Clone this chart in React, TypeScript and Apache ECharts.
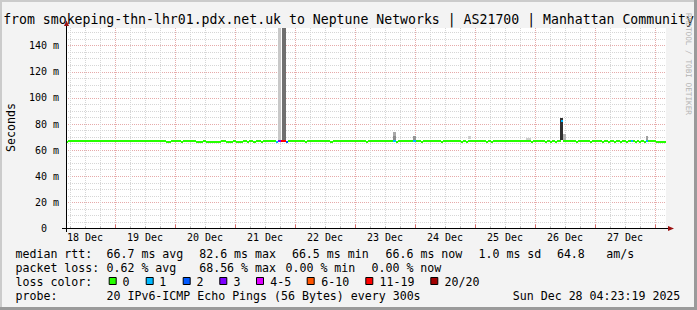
import React, { useEffect, useRef } from "react";
import * as echarts from "echarts";

// ---------------- data ----------------
const TITLE = "from smokeping-thn-lhr01.pdx.net.uk to Neptune Networks | AS21700 | Manhattan Community";
const Y_TITLE = "Seconds";
const WATERMARK = "RRDTOOL / TOBI OETIKER";

// time is in hours since 18 Dec 2025 00:00
const T_START = 4 + 23 / 60 + 19 / 3600; // 18 Dec 04:23:19
const T_END = T_START + 240; // 28 Dec 04:23:19
const Y_MAX = 153.5;

const X_LABELS = ["18 Dec", "19 Dec", "20 Dec", "21 Dec", "22 Dec", "23 Dec", "24 Dec", "25 Dec", "26 Dec", "27 Dec"];
const Y_LABELS = ["0\u00a0\u00a0", "20 m", "40 m", "60 m", "80 m", "100 m", "120 m", "140 m"];

// median rtt (ms): segment start time, value, loss class index
const medTime = [
  4.39, 5.0, 44.4, 46.4, 50.3, 51.1, 56.4, 59.1, 60.3, 66.3,
  68.3, 71.1, 72.3, 75.1, 76.7, 77.5, 79.1, 80.3, 82.4, 83.2,
  88.4, 89.2, 90.4, 92.4, 93.2, 100.0, 100.8, 110.0, 111.2, 124.4,
  125.2, 135.2, 136.4, 137.2, 143.2, 144.4, 146.4, 147.2, 154.4, 155.2,
  162.4, 163.2, 164.4, 165.2, 172.4, 173.2, 174.4, 175.2, 190.4, 191.2,
  196.0, 196.8, 198.0, 198.8, 200.0, 200.8, 202.4, 203.2, 208.4, 209.2,
  214.0, 214.8, 218.8, 219.6, 221.2, 222.0, 223.6, 224.4, 226.0, 226.8,
  228.4, 229.2, 230.4, 231.2, 232.0, 232.8, 233.6, 234.4, 235.6, 236.4,
  237.2, 240.4,
];
const medValue = [
  66.5, 67.2, 66.5, 67.2, 66.5, 67.2, 66.5, 67.2, 66.5, 67.2,
  66.5, 67.2, 66.5, 67.2, 66.5, 67.2, 66.5, 67.2, 66.5, 67.2,
  66.5, 67.2, 67.2, 66.5, 67.2, 66.5, 67.2, 66.5, 67.2, 66.5,
  67.2, 67.2, 66.5, 67.2, 67.2, 67.2, 66.5, 67.2, 66.5, 67.2,
  66.5, 67.2, 66.5, 67.2, 66.5, 67.2, 66.5, 67.2, 66.5, 67.2,
  66.5, 67.2, 66.5, 67.2, 66.5, 67.2, 82.6, 67.2, 66.5, 67.2,
  66.5, 67.2, 66.5, 67.2, 66.5, 67.2, 66.5, 67.2, 66.5, 67.2,
  66.5, 67.2, 67.2, 67.2, 66.5, 67.2, 66.5, 67.2, 66.5, 67.2,
  67.2, 66.5,
];
const medLoss = [
  0, 0, 0, 0, 0, 0, 0, 0, 0, 0,
  0, 0, 0, 0, 0, 0, 0, 0, 0, 0,
  1, 3, 6, 2, 0, 0, 0, 0, 0, 0,
  0, 1, 0, 0, 1, 0, 0, 0, 0, 0,
  0, 0, 0, 0, 0, 0, 0, 0, 0, 0,
  0, 0, 0, 0, 0, 0, 1, 0, 0, 0,
  0, 0, 0, 0, 0, 0, 0, 0, 0, 0,
  0, 0, 1, 0, 0, 0, 0, 0, 0, 1,
  0, 0,
];

// smoke (spread of the individual pings)
const smokeStart = [89.2, 90.8, 135.2, 135.2, 143.2, 165.2, 188.4, 202.0, 203.2, 236.4];
const smokeEnd = [90.5, 92.3, 136.4, 136.4, 144.4, 166.4, 190.4, 203.2, 204.4, 237.2];
const smokeLow = [67.2, 67.2, 67.5, 70.5, 67.5, 68.5, 67.5, 67.5, 67.5, 67.5];
const smokeHigh = [153.5, 153.5, 70.5, 74.0, 71.0, 70.5, 69.3, 84.5, 72.0, 71.0];
const smokeGrey = [200, 112, 140, 168, 150, 205, 205, 48, 180, 160];

const LOSS_LABELS = ["0", "1", "2", "3", "4-5", "6-10", "11-19", "20/20"];
const LOSS_COLORS = ["#26ff00", "#00b8ff", "#0059ff", "#7e00ff", "#dd00ff", "#ff5500", "#ff0000", "#a10000"];

const RTT_STATS = ["66.7 ms avg", "82.6 ms max", "66.5 ms min", "66.6 ms now", "1.0 ms sd", "64.8", "am/s"];
const LOSS_STATS = ["0.62 % avg", "68.56 % max", "0.00 % min", "0.00 % now"];
const PROBE = "20 IPv6-ICMP Echo Pings (56 Bytes) every 300s";
const STAMP = "Sun Dec 28 04:23:19 2025";

// ---------------- layout ----------------
const W = 697;
const H = 310;
const PL = 66;
const PW = 600;
const PT = 28;
const PB = 228.5;
const PH = PB - PT;
const MONO = "'DejaVu Sans Mono', monospace";
const MINOR = "#d6d6d6";
const MAJOR = "#e6aaaa";

const xPix = (t: number) => PL + ((t - T_START) / (T_END - T_START)) * PW;
const yPix = (v: number) => PB - (v / Y_MAX) * PH;

const RTT_X = [106.5, 199.2, 291.9, 385.5, 478.5, 556.9, 606.2];
const LOSS_X = [106.5, 199.2, 285.5, 371.5];
const SQ_X = [108.7, 145.7, 182.7, 219.3, 256, 306.7, 365.3, 430.3];
const SQL_X = [122.5, 159.2, 196.5, 233.5, 270.2, 321.2, 379.5, 444.5];
const ROW = [254, 268, 282, 296];
const LEG_FS = 11.6;

function txt(text: string, x: number, y: number, fs: number, extra: any = {}) {
  return {
    type: "text",
    x,
    y,
    z: 50,
    style: { text, fontSize: fs, fontFamily: MONO, fill: "#000", align: "left", verticalAlign: "middle", ...extra },
  };
}

function buildOption(): any {
  const medData = medTime.map((t, i) => [t, i + 1 < medTime.length ? medTime[i + 1] : T_END, medValue[i], medLoss[i]]);
  const smokeData = smokeStart.map((t, i) => [t, smokeEnd[i], smokeLow[i], smokeHigh[i], smokeGrey[i]]);

  const graphics: any[] = [];
  // frame
  graphics.push({ type: "rect", z: 60, shape: { x: 0, y: 0, width: W, height: 2 }, style: { fill: "#cbcbcb" } });
  graphics.push({ type: "rect", z: 60, shape: { x: 0, y: 0, width: 2, height: H }, style: { fill: "#cbcbcb" } });
  graphics.push({ type: "rect", z: 61, shape: { x: W - 3, y: 0, width: 3, height: H }, style: { fill: "#9a9a9a" } });
  graphics.push({ type: "rect", z: 61, shape: { x: 0, y: H - 3, width: W, height: 3 }, style: { fill: "#9a9a9a" } });

  // title, axis title, watermark
  graphics.push(txt(TITLE, W / 2, 19, 13.2, { align: "center" }));
  graphics.push({ ...txt(Y_TITLE, 11, 127.5, LEG_FS, { align: "center" }), rotation: Math.PI / 2 });
  graphics.push({ ...txt(WATERMARK, 688, 64, 7.7, { align: "center", fill: "#b4b4b4" }), rotation: -Math.PI / 2 });

  // axis lines and arrows
  graphics.push({ type: "line", z: 40, shape: { x1: 62, y1: 228.5, x2: 669, y2: 228.5 }, style: { stroke: "#000", lineWidth: 1 } });
  graphics.push({ type: "line", z: 40, shape: { x1: 66.5, y1: 232, x2: 66.5, y2: 25 }, style: { stroke: "#000", lineWidth: 1 } });
  graphics.push({ type: "polygon", z: 41, shape: { points: [[668, 226], [674, 228.5], [668, 231]] }, style: { fill: "#9a1010" } });
  graphics.push({ type: "polygon", z: 41, shape: { points: [[64, 26], [66.5, 20.5], [69, 26]] }, style: { fill: "#9a1010" } });

  // legend
  graphics.push(txt("median rtt:", 15.5, ROW[0], LEG_FS));
  RTT_STATS.forEach((s, i) => graphics.push(txt(s, RTT_X[i], ROW[0], LEG_FS)));
  graphics.push(txt("packet loss:", 15.5, ROW[1], LEG_FS));
  LOSS_STATS.forEach((s, i) => graphics.push(txt(s, LOSS_X[i], ROW[1], LEG_FS)));
  graphics.push(txt("loss color:", 15.5, ROW[2], LEG_FS));
  LOSS_LABELS.forEach((s, i) => {
    graphics.push({
      type: "rect",
      z: 50,
      shape: { x: SQ_X[i] + 0.5, y: ROW[2] - 4.5, width: 7, height: 7 },
      style: { fill: LOSS_COLORS[i], stroke: "#000", lineWidth: 1 },
    });
    graphics.push(txt(s, SQL_X[i], ROW[2], LEG_FS));
  });
  graphics.push(txt("probe:", 15.5, ROW[3], LEG_FS));
  graphics.push(txt(PROBE, 106.5, ROW[3], LEG_FS));
  graphics.push(txt(STAMP, 512.8, ROW[3], LEG_FS));

  const hiddenAxis = (gridIndex: number) => ({ gridIndex, type: "value", min: 0, max: 1, show: false });

  return {
    animation: false,
    backgroundColor: "#f3f3f3",
    grid: [
      { left: PL, top: PT, width: PW, height: PH, show: true, backgroundColor: "#ffffff", borderWidth: 0 },
      { left: PL, top: yPix(150), width: PW, height: yPix(0) - yPix(150) },
      { left: xPix(6), top: PT, width: xPix(240) - xPix(6), height: PH },
      { left: xPix(24), top: PT, width: xPix(240) - xPix(24), height: PH },
    ],
    xAxis: [
      { gridIndex: 0, type: "value", min: T_START, max: T_END, show: false },
      hiddenAxis(1),
      {
        gridIndex: 2,
        type: "value",
        min: 0,
        max: 234,
        interval: 6,
        axisLine: { show: false },
        axisTick: { show: true, inside: true, length: 2, lineStyle: { color: "#b0b0b0" } },
        axisLabel: {
          show: true,
          margin: 4,
          fontSize: 10,
          fontFamily: MONO,
          color: "#000",
          formatter: (v: number) => (v % 24 === 6 ? X_LABELS[(v - 6) / 24] : ""),
        },
        splitLine: { show: true, lineStyle: { color: [MINOR, MINOR, MINOR, MAJOR], width: 1, type: [1, 1] } },
      },
      {
        gridIndex: 3,
        type: "value",
        min: 0,
        max: 216,
        interval: 24,
        axisLine: { show: false },
        axisTick: { show: true, inside: true, length: 4, lineStyle: { color: "#d86c6c" } },
        axisLabel: { show: false },
        splitLine: { show: false },
      },
    ],
    yAxis: [
      { gridIndex: 0, type: "value", min: 0, max: Y_MAX, show: false },
      {
        gridIndex: 1,
        type: "value",
        min: 0,
        max: 150,
        interval: 5,
        axisLine: { show: false },
        axisTick: { show: false },
        axisLabel: {
          show: true,
          margin: 7,
          fontSize: 10,
          fontFamily: MONO,
          color: "#000",
          formatter: (v: number) => (v % 20 === 0 ? Y_LABELS[v / 20] ?? "" : ""),
        },
        splitLine: { show: true, lineStyle: { color: [MAJOR, MINOR, MINOR, MINOR], width: 1, type: [1, 1] } },
      },
      hiddenAxis(2),
      hiddenAxis(3),
    ],
    series: [
      {
        type: "custom",
        name: "smoke",
        xAxisIndex: 0,
        yAxisIndex: 0,
        data: smokeData,
        encode: { x: [0, 1], y: [2, 3] },
        renderItem: (_p: any, api: any) => {
          const a = api.coord([api.value(0), api.value(3)]);
          const b = api.coord([api.value(1), api.value(2)]);
          const g = api.value(4);
          const x0 = Math.round(a[0]);
          const y0 = Math.round(a[1]);
          return {
            type: "rect",
            shape: { x: x0, y: y0, width: Math.round(b[0]) - x0, height: Math.round(b[1]) - y0 },
            style: { fill: `rgb(${g},${g},${g})` },
          };
        },
      },
      {
        type: "custom",
        name: "median rtt",
        xAxisIndex: 0,
        yAxisIndex: 0,
        data: medData,
        encode: { x: [0, 1], y: 2 },
        renderItem: (_p: any, api: any) => {
          const a = api.coord([api.value(0), api.value(2)]);
          const b = api.coord([api.value(1), api.value(2)]);
          const x0 = Math.round(a[0]);
          const y0 = Math.round(a[1] - 1);
          return {
            type: "rect",
            shape: { x: x0, y: y0, width: Math.round(b[0]) - x0, height: 2 },
            style: { fill: LOSS_COLORS[api.value(3)] },
          };
        },
      },
    ],
    graphic: graphics,
  };
}

export default function App() {
  const ref = useRef<HTMLDivElement>(null);
  useEffect(() => {
    document.body.style.margin = "0";
    const chart = echarts.init(ref.current!, undefined, { renderer: "svg", width: W, height: H });
    chart.setOption(buildOption());
    return () => chart.dispose();
  }, []);
  return <div ref={ref} style={{ width: W, height: H }} />;
}
